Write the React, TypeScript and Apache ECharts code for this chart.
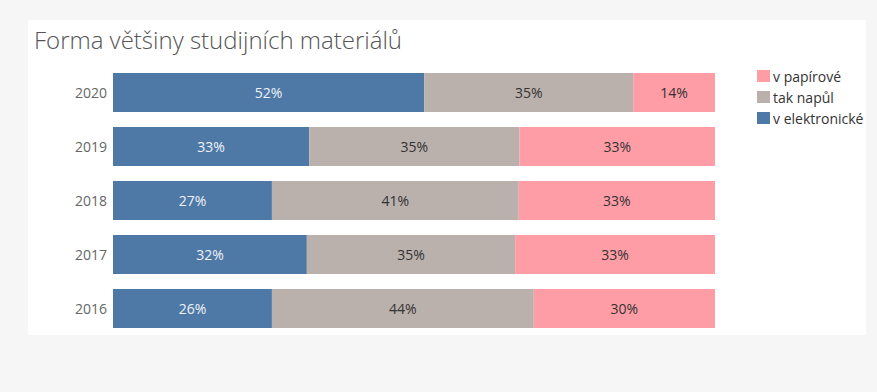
import React, { useEffect, useRef } from "react";
import * as echarts from "echarts";

const years = ["2020", "2019", "2018", "2017", "2016"];
const electronic = [51.7, 32.6, 26.4, 32.2, 26.4];
const half = [34.7, 34.9, 41.0, 34.6, 43.5];
const paper = [13.6, 32.5, 32.6, 33.2, 30.1];
const electronicLabels = ["52%", "33%", "27%", "32%", "26%"];
const halfLabels = ["35%", "35%", "41%", "35%", "44%"];
const paperLabels = ["14%", "33%", "33%", "33%", "30%"];

const FONT = "'Open Sans', 'Noto Sans', sans-serif";

export default function App() {
  const ref = useRef<HTMLDivElement>(null);
  useEffect(() => {
    if (!ref.current) return;
    const chart = echarts.init(ref.current, undefined, { renderer: "svg" });
    const mk = (name: string, data: number[], labels: string[], color: string, textColor: string) => ({
      name,
      type: "bar",
      stack: "total",
      barWidth: 39,
      data,
      itemStyle: { color },
      label: {
        show: true,
        position: "inside",
        formatter: (p: any) => labels[p.dataIndex],
        color: textColor,
        fontFamily: FONT,
        fontSize: 14,
      },
    });
    chart.setOption({
      animation: false,
      backgroundColor: "#f6f6f6",
      graphic: [
        { type: "rect", left: 28, top: 20, shape: { width: 838, height: 315 }, style: { fill: "#ffffff" }, z: -10, silent: true },
      ],
      title: {
        text: "Forma většiny studijních materiálů",
        left: 29,
        top: 22,
        textStyle: { fontFamily: FONT, fontSize: 24, fontWeight: 300, color: "#555555" },
      },
      legend: {
        data: ["v papírové", "tak napůl", "v elektronické"],
        orient: "vertical",
        left: 752,
        top: 64,
        icon: "rect",
        itemWidth: 13,
        itemHeight: 12,
        itemGap: 7,
        textStyle: { fontFamily: FONT, fontSize: 14, color: "#333333", padding: [0, 0, 0, -2] },
        selectedMode: false,
      },
      grid: { left: 113, right: 162, top: 65.5, bottom: 56.5, containLabel: false },
      xAxis: { type: "value", min: 0, max: 100, show: false },
      yAxis: {
        type: "category",
        data: years,
        inverse: true,
        axisLine: { show: false },
        axisTick: { show: false },
        axisLabel: { color: "#666666", fontFamily: FONT, fontSize: 14, margin: 6 },
      },
      series: [
        mk("v elektronické", electronic, electronicLabels, "#4e79a7", "#eef2f7"),
        mk("tak napůl", half, halfLabels, "#bab0ac", "#333333"),
        mk("v papírové", paper, paperLabels, "#ff9da7", "#333333"),
      ],
    });
    return () => chart.dispose();
  }, []);
  return (
    <div style={{ position: "fixed", left: 0, top: 0, width: 877, height: 392 }}>
      <div ref={ref} style={{ width: 877, height: 392 }} />
    </div>
  );
}
